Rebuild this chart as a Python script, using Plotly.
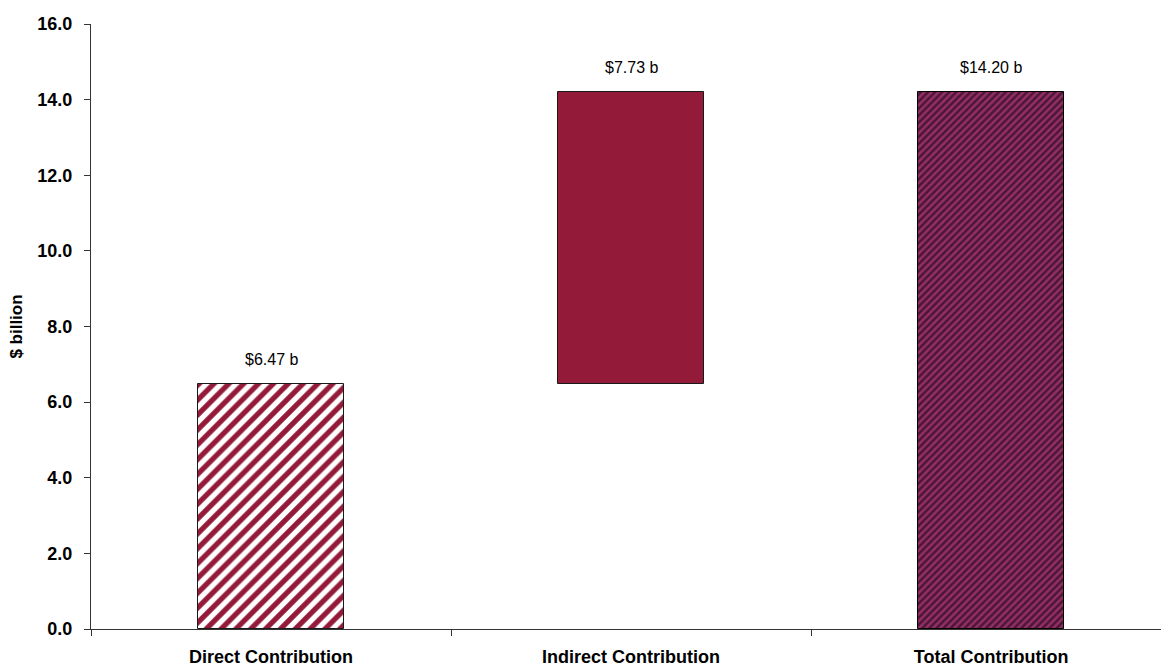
import plotly.graph_objects as go

categories = ["Direct Contribution", "Indirect Contribution", "Total Contribution"]
values = [6.47, 7.73, 14.20]
bases = [0, 6.47, 0]
labels = ["$6.47 b", "$7.73 b", "$14.20 b"]
y_ticks = [0, 2, 4, 6, 8, 10, 12, 14, 16]

RED = "#941a3a"
MAG = "#952e68"
fig = go.Figure()

fig.add_trace(go.Bar(
    x=[categories[0]], y=[values[0]], base=[bases[0]], width=0.405,
    marker=dict(color=RED, line=dict(color="#1a1a1a", width=1),
                pattern=dict(shape="/", fgcolor="#ffffff", bgcolor=RED, size=10.5, solidity=0.5,
                             fgopacity=1, fillmode="overlay")),
    showlegend=False))
fig.add_trace(go.Bar(
    x=[categories[1]], y=[values[1]], base=[bases[1]], width=0.405,
    marker=dict(color=RED, line=dict(color="#1a1a1a", width=1)),
    showlegend=False))
fig.add_trace(go.Bar(
    x=[categories[2]], y=[values[2]], base=[bases[2]], width=0.405,
    marker=dict(color=MAG, line=dict(color="#000000", width=1),
                pattern=dict(shape="/", fgcolor="#000000", bgcolor=MAG, size=5, solidity=0.5, fillmode="overlay")),
    showlegend=False))

for c, v, b, t in zip(categories, values, bases, labels):
    fig.add_annotation(x=c, y=v + b, text=t, showarrow=False, yanchor="bottom", yshift=14,
                       font=dict(family="Arial", size=16, color="#000"))

fig.update_layout(
    width=1161, height=666, plot_bgcolor="white", paper_bgcolor="white",
    margin=dict(l=91, r=0, t=24, b=37), bargap=0,
    font=dict(family="Arial", color="#000"),
)
fig.update_xaxes(
    type="category", range=[-0.5, 2.472], showline=True, linecolor="#333", linewidth=1,
    ticks="outside", tickson="boundaries", ticklen=6, tickcolor="#333", showgrid=False,
    tickfont=dict(family="Arial", size=18, color="#000"), ticklabelstandoff=11,
    tickvals=categories, ticktext=["<b>%s</b>" % c for c in categories],
)
fig.update_yaxes(
    range=[0, 16], tickvals=y_ticks, ticktext=["<b>%.1f</b>" % v for v in y_ticks],
    showline=True, linecolor="#333", linewidth=1, ticks="outside", ticklen=6, tickcolor="#333",
    showgrid=False, zeroline=False, tickfont=dict(family="Arial", size=18, color="#000"),
    ticklabelstandoff=8,
    title=dict(text="<b>$ billion</b>", font=dict(family="Arial", size=17, color="#000"), standoff=10),
)
fig.write_html("out.html")
